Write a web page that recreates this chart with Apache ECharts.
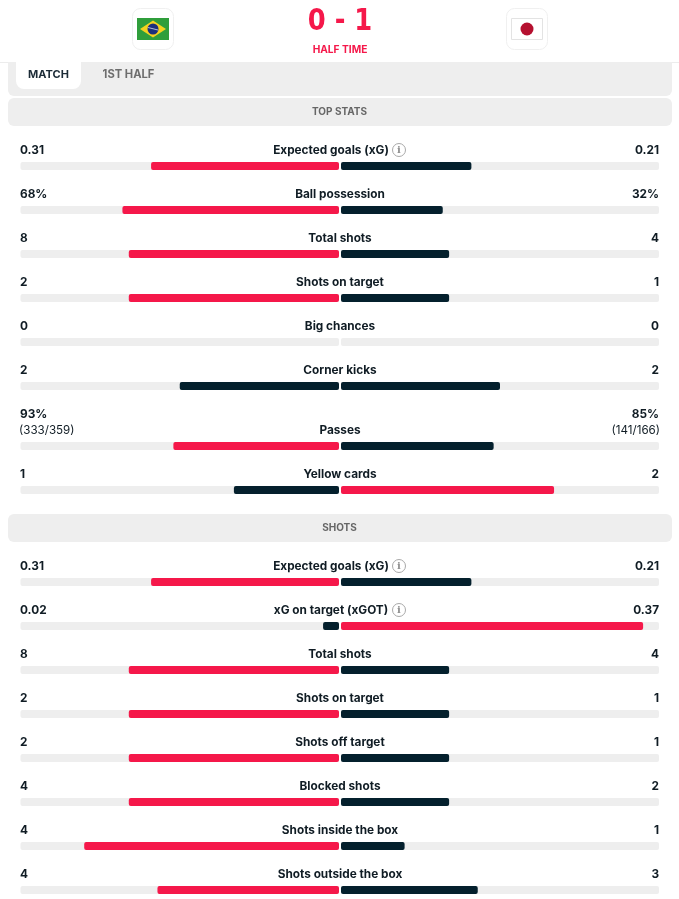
<!DOCTYPE html>
<html>
<head>
<meta charset="utf-8">
<style>html,body{margin:0;padding:0;background:#fff}#chart{width:679px;height:899px}</style>
<script src="https://cdn.jsdelivr.net/npm/echarts@6/dist/echarts.min.js"></script>
</head>
<body>
<div id="chart"></div>
<script>
// Match statistics, home (Brazil) against away (Japan)
const topStatNames = ['Expected goals (xG)', 'Ball possession', 'Total shots', 'Shots on target', 'Big chances', 'Corner kicks', 'Passes', 'Yellow cards'];
const topStatHome = [0.31, 68, 8, 2, 0, 2, 93, 1];
const topStatAway = [0.21, 32, 4, 1, 0, 2, 85, 2];
const topStatHomeLabels = ['0.31', '68%', '8', '2', '0', '2', '93%', '1'];
const topStatAwayLabels = ['0.21', '32%', '4', '1', '0', '2', '85%', '2'];
const passDetailHome = '(333/359)';
const passDetailAway = '(141/166)';

const shotNames = ['Expected goals (xG)', 'xG on target (xGOT)', 'Total shots', 'Shots on target', 'Shots off target', 'Blocked shots', 'Shots inside the box', 'Shots outside the box'];
const shotHome = [0.31, 0.02, 8, 2, 2, 4, 4, 4];
const shotAway = [0.21, 0.37, 4, 1, 1, 2, 1, 3];
const shotHomeLabels = ['0.31', '0.02', '8', '2', '2', '4', '4', '4'];
const shotAwayLabels = ['0.21', '0.37', '4', '1', '1', '2', '1', '3'];

const namesWithInfo = ['Expected goals (xG)', 'xG on target (xGOT)'];

const RED = '#f5184a', DARK = '#04202d', TRACK = '#eeeeee', INK = '#101c24', BAND = '#eeeeee';
const FONT = 'Inter';
const ROW_FONT = '700 11.8px ' + FONT;

const grid = [], xAxis = [], yAxis = [], series = [], texts = [];

function label(text, x, y, align, opts) {
  texts.push({
    type: 'text', x, y, z: 5,
    style: Object.assign({
      text, fill: INK, font: ROW_FONT, textAlign: align, textVerticalAlign: 'middle'
    }, opts || {})
  });
}

function infoIcon(cx, cy) {
  texts.push({ type: 'circle', z: 5, shape: { cx, cy, r: 6.5 }, style: { fill: 'none', stroke: '#a9a9a9', lineWidth: 1 } });
  label('i', cx, cy + 0.5, 'center', { fill: '#8f8f8f', font: '600 10px "DejaVu Serif"' });
}

// Each side of a row gets its own small grid; both halves run on a 0 to 100 percent scale.
function addSide(left, width, rowTop, share, color, inverse) {
  const i = grid.length;
  grid.push({ left, top: rowTop, width, height: 8 });
  xAxis.push({ gridIndex: i, type: 'value', min: 0, max: 100, inverse, show: false });
  yAxis.push({ gridIndex: i, type: 'category', data: [''], show: false });
  series.push({
    type: 'bar', xAxisIndex: i, yAxisIndex: i, silent: true, animation: false,
    data: [share], barWidth: 8,
    showBackground: true,
    backgroundStyle: { color: TRACK, borderRadius: 2 },
    itemStyle: { color, borderRadius: 2 }
  });
}

function addRow(rowTop, name, h, a, hLabel, aLabel, valueOffset) {
  const total = h + a;
  // Whole-percent shares: the home side rounds down, the away side takes the rest.
  const hShare = total ? Math.floor(h / total * 100) : 0;
  const aShare = total ? 100 - hShare : 0;
  addSide(20.5, 318.5, rowTop, hShare, h > a ? RED : DARK, true);
  addSide(341, 318, rowTop, aShare, a > h ? RED : DARK, false);
  const hasInfo = namesWithInfo.includes(name);
  const textY = rowTop - 11.5;
  label(name, hasInfo ? 331 : 340, textY, 'center');
  label(hLabel, 20, textY - valueOffset, 'left');
  label(aLabel, 659, textY - valueOffset, 'right');
  if (hasInfo) infoIcon(399, rowTop - 12);
}

const ROW_STEP = 44;
let rowTop = 162;
topStatNames.forEach((name, i) => {
  const isPasses = name === 'Passes';
  if (isPasses) {
    rowTop += 16;
    label(passDetailHome, 19, rowTop - 11.5, 'left', { font: '400 11.6px ' + FONT });
    label(passDetailAway, 660, rowTop - 11.5, 'right', { font: '400 11.6px ' + FONT });
  }
  addRow(rowTop, name, topStatHome[i], topStatAway[i], topStatHomeLabels[i], topStatAwayLabels[i], isPasses ? 16 : 0);
  rowTop += ROW_STEP;
});
rowTop = 578;
shotNames.forEach((name, i) => {
  addRow(rowTop, name, shotHome[i], shotAway[i], shotHomeLabels[i], shotAwayLabels[i], 0);
  rowTop += ROW_STEP;
});

// Header, tab strip and section bands
const chrome = [
  { type: 'rect', z: 1, shape: { x: 0, y: 62, width: 679, height: 1 }, style: { fill: '#ececec' } },
  { type: 'rect', z: 1, shape: { x: 8, y: 62, width: 664, height: 34, r: [0, 0, 6, 6] }, style: { fill: BAND } },
  { type: 'rect', z: 2, shape: { x: 16, y: 62, width: 65, height: 27, r: [0, 0, 8, 8] }, style: { fill: '#fff' } },
  { type: 'rect', z: 1, shape: { x: 8, y: 98, width: 664, height: 28, r: 6 }, style: { fill: BAND } },
  { type: 'rect', z: 1, shape: { x: 8, y: 514, width: 664, height: 28, r: 6 }, style: { fill: BAND } },
  // Team badges
  { type: 'rect', z: 1, shape: { x: 132.5, y: 8.5, width: 41, height: 41, r: 8 }, style: { fill: '#fff', stroke: '#f0f0f0' } },
  { type: 'rect', z: 1, shape: { x: 506.5, y: 8.5, width: 41, height: 41, r: 8 }, style: { fill: '#fff', stroke: '#f0f0f0' } },
  // Brazil
  { type: 'rect', z: 2, shape: { x: 137, y: 18, width: 32, height: 22 }, style: { fill: '#2f9e3b' } },
  { type: 'polygon', z: 2, shape: { points: [[153, 20.5], [166, 29], [153, 37.5], [140, 29]] }, style: { fill: '#f4d21f' } },
  { type: 'circle', z: 2, shape: { cx: 153, cy: 29, r: 5.5 }, style: { fill: '#1c2f7c' } },
  { type: 'line', z: 2, shape: { x1: 148, y1: 27.5, x2: 158, y2: 30 }, style: { stroke: '#d8dfe8', lineWidth: 0.8 } },
  // Japan
  { type: 'rect', z: 2, shape: { x: 511.5, y: 18.5, width: 31, height: 21 }, style: { fill: '#fff', stroke: '#e3e3e3' } },
  { type: 'circle', z: 2, shape: { cx: 527, cy: 29, r: 6.5 }, style: { fill: '#b5102f' } }
];

label('MATCH', 48.5, 75, 'center', { font: '700 11px ' + FONT, fill: '#1c2b36' });
label('1ST HALF', 128.5, 75, 'center', { font: '700 11.2px ' + FONT, fill: '#6d6d6d' });
label('TOP STATS', 339.5, 112, 'center', { font: '700 10px ' + FONT, fill: '#666' });
label('SHOTS', 339.5, 528, 'center', { font: '700 10px ' + FONT, fill: '#666' });
label('HALF TIME', 340, 49.5, 'center', { font: '700 10.2px ' + FONT, fill: RED });
texts.push({
  type: 'text', x: 340, y: 22.5, z: 5, scaleX: 0.86,
  style: { text: '0 - 1', fill: RED, font: '700 30px "DejaVu Sans"', textAlign: 'center', textVerticalAlign: 'middle' }
});

const chart = echarts.init(document.getElementById('chart'), null, { renderer: 'canvas' });
chart.setOption({
  animation: false,
  backgroundColor: '#fff',
  grid, xAxis, yAxis, series,
  graphic: { elements: chrome.concat(texts) }
});
</script>
</body>
</html>
